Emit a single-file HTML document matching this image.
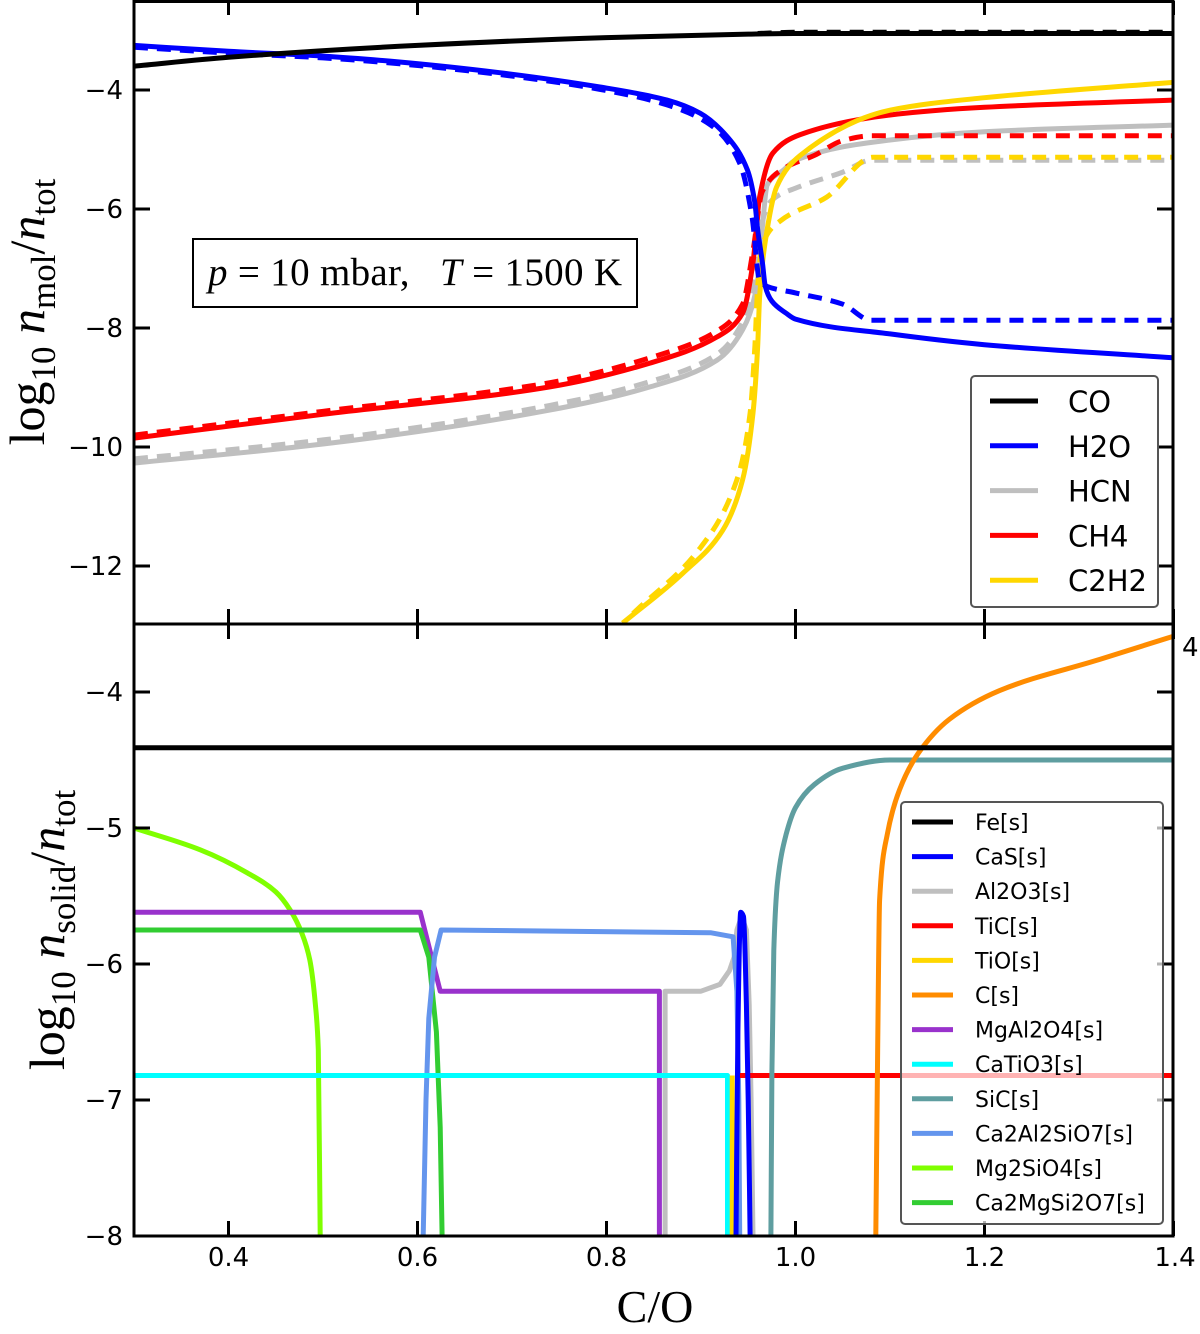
<!DOCTYPE html>
<html><head><meta charset="utf-8"><style>
html,body{margin:0;padding:0;background:#fff;}
svg{display:block;}
.tick{font-family:"DejaVu Sans","Liberation Sans",sans-serif;font-size:26px;fill:#000;}
.leg1{font-family:"DejaVu Sans","Liberation Sans",sans-serif;font-size:29px;fill:#000;}
.leg2{font-family:"DejaVu Sans","Liberation Sans",sans-serif;font-size:22px;fill:#000;}
.serif{font-family:"Liberation Serif","DejaVu Serif",serif;fill:#000;}
</style></head><body>
<svg id="chart" width="1200" height="1334" viewBox="0 0 1200 1334" xmlns="http://www.w3.org/2000/svg">
<defs>
<clipPath id="c1"><rect x="134" y="0" width="1039" height="624"/></clipPath>
<clipPath id="c2"><rect x="134" y="624" width="1039" height="612"/></clipPath>
</defs>
<g id="top-lines" clip-path="url(#c1)"></g>
<g id="bot-lines" clip-path="url(#c2)"></g>
<g id="axes"></g>
<g>
<rect x="193" y="239" width="444" height="68" fill="#fff" stroke="#000" stroke-width="2"/>
<text x="208" y="285" class="serif" font-size="39" style="white-space:pre" textLength="414" lengthAdjust="spacing"><tspan font-style="italic">p</tspan><tspan> = 10 mbar,   </tspan><tspan font-style="italic">T</tspan><tspan> = 1500 K</tspan></text>
</g>
<text class="serif" font-size="50" transform="translate(44,312) rotate(-90)" text-anchor="middle">log<tspan font-size="35" dy="11">10</tspan><tspan dy="-11" font-style="italic"> n</tspan><tspan font-size="35" dy="11">mol</tspan><tspan dy="-11">/</tspan><tspan font-style="italic">n</tspan><tspan font-size="35" dy="11">tot</tspan></text>
<text class="serif" font-size="50" transform="translate(64,930) rotate(-90)" text-anchor="middle">log<tspan font-size="35" dy="11">10</tspan><tspan dy="-11" font-style="italic"> n</tspan><tspan font-size="35" dy="11">solid</tspan><tspan dy="-11">/</tspan><tspan font-style="italic">n</tspan><tspan font-size="35" dy="11">tot</tspan></text>
<text x="655" y="1322" text-anchor="middle" class="serif" font-size="46">C/O</text>
<text x="1182" y="656" class="tick">4</text>
<g id="leg-top"></g>
<g id="leg-bot"></g>
</svg>
<script>
// ---- data ----
const xTicks=[0.4,0.6,0.8,1.0,1.2,1.4];
const xTickLabels=["0.4","0.6","0.8","1.0","1.2","1.4"];
const yTicksTop=[-4,-6,-8,-10,-12];
const yTicksBot=[-4,-5,-6,-7,-8];

const gasNames=["CO","H2O","HCN","CH4","C2H2"];
const gasColors=["#000","#0000ff","#bfbfbf","#ff0000","#ffd700"];
const coX=[0.3,0.4,0.6,0.8,0.95,1.0,1.4];
const coY=[-3.6,-3.45,-3.25,-3.12,-3.06,-3.05,-3.05];
const coDX=[0.96,1.0,1.4];
const coDY=[-3.05,-3.03,-3.03];
const h2oX=[0.3,0.4,0.5,0.581,0.687,0.793,0.864,0.899,0.928,0.949,0.957,0.96,0.965,0.968,0.975,0.99,1.0,1.1,1.2,1.4];
const h2oY=[-3.25,-3.35,-3.43,-3.53,-3.71,-3.95,-4.17,-4.39,-4.79,-5.34,-5.9,-6.35,-6.9,-7.3,-7.55,-7.75,-7.85,-8.1,-8.28,-8.5];
const h2oDX=[0.3,0.4,0.5,0.581,0.687,0.793,0.864,0.913,0.941,0.954,0.962,0.97,1.0,1.05,1.08,1.4];
const h2oDY=[-3.28,-3.38,-3.46,-3.56,-3.74,-3.99,-4.25,-4.62,-5.23,-6.13,-7.2,-7.3,-7.41,-7.6,-7.87,-7.87];
const hcnX=[0.3,0.5,0.74,0.846,0.917,0.944,0.959,0.965,0.97,0.987,1.0,1.1,1.2,1.4];
const hcnY=[-10.27,-9.95,-9.38,-8.99,-8.54,-8.03,-7.3,-6.3,-5.6,-5.35,-5.18,-4.84,-4.7,-4.59];
const hcnDX=[0.3,0.5,0.74,0.846,0.917,0.944,0.958,0.965,0.975,1.0,1.05,1.08,1.4];
const hcnDY=[-10.2,-9.88,-9.3,-8.9,-8.44,-7.9,-7.1,-6.2,-5.85,-5.65,-5.38,-5.18,-5.18];
const ch4X=[0.3,0.5,0.74,0.846,0.917,0.944,0.955,0.962,0.976,1.005,1.1,1.2,1.4];
const ch4Y=[-9.85,-9.45,-8.99,-8.59,-8.15,-7.75,-6.9,-5.8,-5.06,-4.75,-4.42,-4.29,-4.17];
const ch4DX=[0.3,0.5,0.74,0.846,0.917,0.944,0.955,0.965,0.99,1.02,1.05,1.08,1.4];
const ch4DY=[-9.8,-9.4,-8.92,-8.5,-8.05,-7.6,-6.7,-5.7,-5.3,-5.1,-4.85,-4.77,-4.77];
const c2h2X=[0.817,0.881,0.923,0.944,0.955,0.96,0.962,0.97,0.98,1.005,1.1,1.2,1.4];
const c2h2Y=[-12.96,-12.12,-11.4,-10.55,-9.43,-8.3,-7.48,-6.35,-5.63,-5.1,-4.34,-4.13,-3.87];
const c2h2DX=[0.828,0.899,0.938,0.952,0.957,0.96,0.965,0.984,1.033,1.082,1.4];
const c2h2DY=[-12.8,-11.7,-10.55,-9.43,-8.3,-7.3,-6.6,-6.2,-5.8,-5.13,-5.13];

const solidNames=["Fe[s]","CaS[s]","Al2O3[s]","TiC[s]","TiO[s]","C[s]","MgAl2O4[s]","CaTiO3[s]","SiC[s]","Ca2Al2SiO7[s]","Mg2SiO4[s]","Ca2MgSi2O7[s]"];
const solidColors=["#000","#0000ff","#bfbfbf","#ff0000","#ffd700","#ff8c00","#9932cc","#00ffff","#5f9ea0","#6495ed","#7fff00","#32cd32"];
const feX=[0.3,1.4]; const feY=[-4.41,-4.41];
const casX=[0.937,0.939,0.942,0.945,0.948,0.95,0.952]; const casY=[-8,-6.5,-5.62,-5.65,-6.3,-7.0,-8];
const al2o3X=[0.862,0.862,0.9,0.92,0.93,0.935,0.938,0.943,0.948,0.951,0.953,0.955]; const al2o3Y=[-8,-6.2,-6.2,-6.15,-6.05,-5.95,-5.75,-5.65,-5.75,-6.3,-7.0,-8];
const ticX=[0.941,1.4]; const ticY=[-6.82,-6.82];
const tioX=[0.933,0.933]; const tioY=[-6.82,-8];
const cX=[1.085,1.087,1.089,1.097,1.11,1.13,1.163,1.216,1.322,1.4]; const cY=[-8,-6.6,-5.53,-5.05,-4.72,-4.45,-4.2,-3.99,-3.76,-3.59];
const mgal2o4X=[0.3,0.603,0.624,0.856,0.856]; const mgal2o4Y=[-5.62,-5.62,-6.2,-6.2,-8];
const catio3X=[0.3,0.928,0.928]; const catio3Y=[-6.82,-6.82,-8];
const sicX=[0.974,0.975,0.977,0.981,0.99,1.0,1.02,1.05,1.1,1.4]; const sicY=[-8,-6.8,-5.9,-5.4,-5.05,-4.85,-4.68,-4.56,-4.5,-4.5];
const ca2al2X=[0.606,0.609,0.612,0.618,0.625,0.91,0.934,0.938,0.94,0.941]; const ca2al2Y=[-8,-7,-6.4,-5.95,-5.75,-5.77,-5.8,-6.2,-7,-8];
const mg2sio4X=[0.3,0.37,0.42,0.45,0.465,0.478,0.486,0.492,0.495,0.497]; const mg2sio4Y=[-5.0,-5.16,-5.33,-5.47,-5.6,-5.78,-5.97,-6.3,-6.63,-8];
const ca2mgX=[0.3,0.603,0.612,0.62,0.624,0.626]; const ca2mgY=[-5.75,-5.75,-5.95,-6.5,-7.2,-8];

// ---- scales ----
const X=v=>134+(v-0.3)*945;
const YT=v=>90+(-4-v)*59.5;
const YB=v=>692+(-4-v)*136;
const NS="http://www.w3.org/2000/svg";
function mk(tag,attrs,parent){const e=document.createElementNS(NS,tag);for(const k in attrs)e.setAttribute(k,attrs[k]);parent.appendChild(e);return e;}
// monotone cubic (Fritsch-Carlson) in pixel space
function pathD(xs,ys,ysc,smooth){
  const P=xs.map((x,i)=>[X(x),ysc(ys[i])]);
  const n=P.length;
  if(!smooth||n<3) return P.map((p,i)=>(i?"L":"M")+p[0].toFixed(1)+","+p[1].toFixed(1)).join("");
  const h=[],s=[];
  for(let i=0;i<n-1;i++){h.push(Math.max(P[i+1][0]-P[i][0],1e-6));s.push((P[i+1][1]-P[i][1])/h[i]);}
  const m=new Array(n);
  m[0]=s[0];m[n-1]=s[n-2];
  for(let i=1;i<n-1;i++){
    if(s[i-1]*s[i]<=0)m[i]=0;
    else{const w1=2*h[i]+h[i-1],w2=h[i]+2*h[i-1];m[i]=(w1+w2)/(w1/s[i-1]+w2/s[i]);}
  }
  let d="M"+P[0][0].toFixed(1)+","+P[0][1].toFixed(1);
  for(let i=0;i<n-1;i++){
    const dx=h[i]/3;
    d+="C"+(P[i][0]+dx).toFixed(2)+","+(P[i][1]+m[i]*dx).toFixed(2)+" "+(P[i+1][0]-dx).toFixed(2)+","+(P[i+1][1]-m[i+1]*dx).toFixed(2)+" "+P[i+1][0].toFixed(1)+","+P[i+1][1].toFixed(1);
  }
  return d;
}
const topG=document.getElementById("top-lines"), botG=document.getElementById("bot-lines");
function line(g,xs,ys,ysc,col,dash,name,smooth){
  const p=mk("path",{d:pathD(xs,ys,ysc,smooth),fill:"none",stroke:col,"stroke-width":5,"stroke-linejoin":"round"},g);
  if(dash)p.setAttribute("stroke-dasharray","14,9");
  
  
}
line(topG,hcnX,hcnY,YT,gasColors[2],false,'hcn-line',true);
line(topG,hcnDX,hcnDY,YT,gasColors[2],true,'hcn-dashed-line',true);
line(topG,ch4X,ch4Y,YT,gasColors[3],false,'ch4-line',true);
line(topG,ch4DX,ch4DY,YT,gasColors[3],true,'ch4-dashed-line',true);
line(topG,c2h2X,c2h2Y,YT,gasColors[4],false,'c2h2-line',true);
line(topG,c2h2DX,c2h2DY,YT,gasColors[4],true,'c2h2-dashed-line',true);
line(topG,h2oX,h2oY,YT,gasColors[1],false,'h2o-line',true);
line(topG,h2oDX,h2oDY,YT,gasColors[1],true,'h2o-dashed-line',true);
line(topG,coX,coY,YT,gasColors[0],false,'co-line',true);
line(topG,coDX,coDY,YT,gasColors[0],true,'co-dashed-line',true);
line(botG,mg2sio4X,mg2sio4Y,YB,solidColors[10],false,'mg2sio4-line',true);
line(botG,al2o3X,al2o3Y,YB,solidColors[2],false,'al2o3-line',false);
line(botG,mgal2o4X,mgal2o4Y,YB,solidColors[6],false,'mgal2o4-line',false);
line(botG,ca2mgX,ca2mgY,YB,solidColors[11],false,'ca2mgsi2o7-line',false);
line(botG,ca2al2X,ca2al2Y,YB,solidColors[9],false,'ca2al2sio7-line',false);
line(botG,catio3X,catio3Y,YB,solidColors[7],false,'catio3-line',false);
line(botG,tioX,tioY,YB,solidColors[4],false,'tio-line',false);
line(botG,ticX,ticY,YB,solidColors[3],false,'tic-line',false);
line(botG,casX,casY,YB,solidColors[1],false,'cas-line',true);
line(botG,sicX,sicY,YB,solidColors[8],false,'sic-line',true);
line(botG,cX,cY,YB,solidColors[5],false,'c-line',true);
line(botG,feX,feY,YB,solidColors[0],false,'fe-line',false);

const ax=document.getElementById("axes");
mk("rect",{x:134,y:1.5,width:1039,height:1234.5,fill:"none",stroke:"#000","stroke-width":3},ax);
mk("line",{x1:134,y1:624,x2:1173,y2:624,stroke:"#000","stroke-width":3},ax);
xTicks.forEach((v,i)=>{
  const x=X(v);
  [[1,15],[624,609],[624,639],[1236,1221]].forEach(([a,b])=>{
    const t=mk("line",{x1:x,y1:a,x2:x,y2:b,stroke:"#000","stroke-width":3},ax);
    
    
  });
  const tl=mk("text",{x:(v<1.39?x:1175),y:1266,"text-anchor":"middle",class:"tick"},ax);
  tl.textContent=xTickLabels[i];
  
  
});
function yt(vals,sc){vals.forEach(v=>{const y=sc(v);
  [[134,150],[1173,1157]].forEach(([a,b])=>{const t=mk("line",{x1:a,y1:y,x2:b,y2:y,stroke:"#000","stroke-width":3},ax);
  
  });
  const tl=mk("text",{x:123,y:y+9,"text-anchor":"end",class:"tick"},ax);tl.textContent="\u2212"+Math.abs(v);
  
  
});}
yt(yTicksTop,YT); yt(yTicksBot,YB);

const lt=document.getElementById("leg-top");
mk("rect",{x:971,y:376,width:187,height:231,rx:4,fill:"#fff","fill-opacity":0.85,stroke:"#555","stroke-width":2},lt);
gasNames.forEach((n,i)=>{const y=401+i*44.8;
  const l=mk("line",{x1:990,y1:y,x2:1038,y2:y,stroke:gasColors[i],"stroke-width":5},lt);
  
  
  const t=mk("text",{x:1068,y:y+11,class:"leg1"},lt);t.textContent=n;
  
  
});
const lb=document.getElementById("leg-bot");
mk("rect",{x:901,y:802,width:262,height:422,rx:4,fill:"#fff","fill-opacity":0.7,stroke:"#555","stroke-width":2},lb);
solidNames.forEach((n,i)=>{const y=822+i*34.6;
  const l=mk("line",{x1:912,y1:y,x2:953,y2:y,stroke:solidColors[i],"stroke-width":5},lb);
  
  
  const t=mk("text",{x:975,y:y+8,class:"leg2"},lb);t.textContent=n;
  
  
});
</script>
</body></html>
